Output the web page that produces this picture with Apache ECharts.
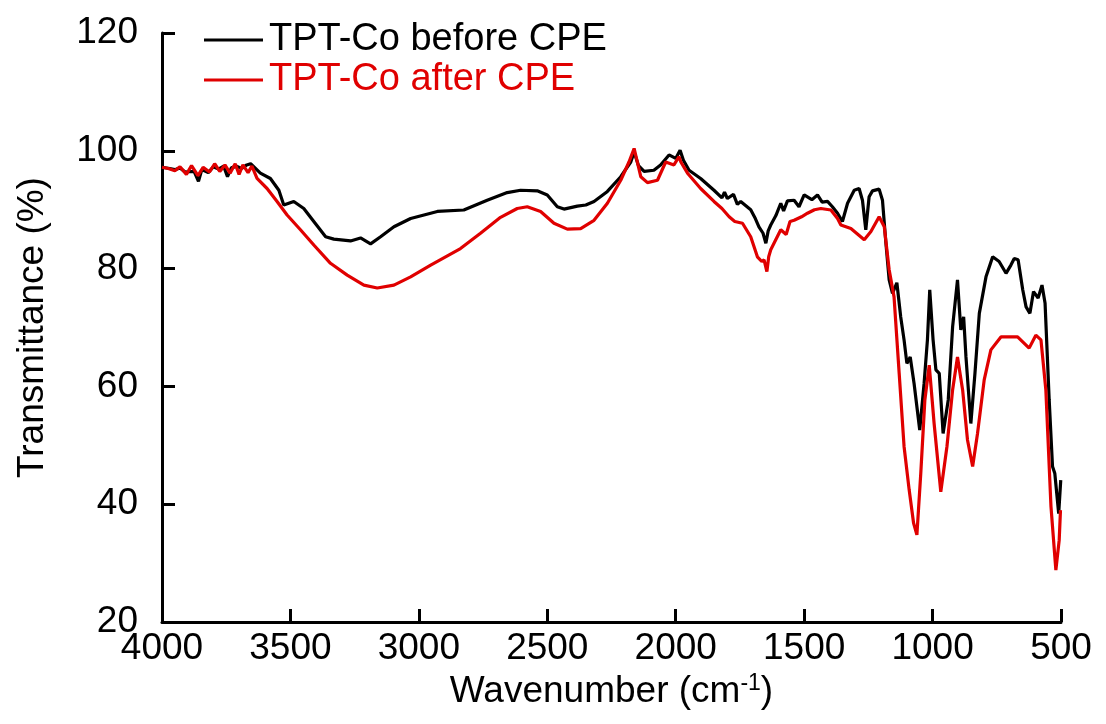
<!DOCTYPE html>
<html>
<head>
<meta charset="utf-8">
<script src="https://cdn.jsdelivr.net/npm/echarts@6/dist/echarts.min.js"></script>
<style>
html,body{margin:0;padding:0;background:#fff;}
#chart{width:1106px;height:724px;}
</style>
</head>
<body>
<div id="chart"></div>
<script>
// Wavenumber (cm-1) and transmittance (%) for each sample
var beforeWn = [4000,3970,3950,3930,3910,3875,3858,3845,3820,3800,3780,3760,3745,3730,3710,3690,3670,3655,3617,3578,3545,3526,3487,3448,3409,3363,3331,3266,3227,3188,3149,3097,3032,2954,2928,2825,2734,2656,2604,2539,2500,2461,2435,2383,2350,2318,2266,2214,2175,2162,2145,2123,2085,2059,2026,2000,1983,1970,1948,1903,1851,1820,1810,1799,1775,1760,1747,1708,1690,1676,1660,1649,1640,1630,1610,1591,1580,1565,1539,1520,1500,1470,1448,1430,1409,1390,1370,1351,1331,1305,1286,1273,1260,1247,1234,1208,1195,1182,1169,1156,1139,1124,1111,1100,1087,1072,1050,1033,1020,1011,998,987,974,959,939,922,903,890,879,870,851,835,818,792,766,741,714,695,682,667,649,636,621,607,589,574,562,546,533,524,509,501];
var beforeT  = [97.2,97.0,96.8,97.1,96.4,96.5,94.8,96.8,96.3,97.3,96.9,97.4,95.6,97.1,97.4,97.0,97.6,97.8,96.2,95.3,93.3,90.8,91.4,90.2,88.0,85.4,85.0,84.7,85.2,84.2,85.4,87.1,88.5,89.4,89.7,89.95,91.6,92.9,93.3,93.2,92.5,90.5,90.1,90.6,90.8,91.4,93.1,95.6,98.1,99.8,97.5,96.5,96.7,97.6,99.3,98.7,100.1,98.4,96.7,95.3,93.3,92.0,93.0,91.9,92.6,90.9,91.4,90.0,88.5,87.1,86.0,84.3,86.4,87.4,89.0,91.1,89.8,91.5,91.6,90.5,92.5,91.7,92.5,91.3,91.4,90.5,89.4,88.0,91.1,93.3,93.6,91.6,86.6,92.2,93.2,93.5,91.6,84.5,78.1,75.8,77.6,71.8,67.9,63.9,65.0,60.5,52.6,60.5,67.9,76.4,67.9,62.8,62.2,52.0,57.7,70.1,78.1,69.6,71.8,65.0,53.7,62.2,72.4,78.6,82.0,81.2,79.2,80.6,81.7,81.5,76.4,73.5,72.4,76.1,75.0,77.2,74.1,57.7,46.4,45.2,38.4,44.1];

var afterWn = [4000,3975,3950,3930,3905,3885,3860,3840,3815,3795,3775,3755,3735,3715,3700,3685,3665,3650,3630,3591,3552,3513,3461,3409,3344,3279,3214,3162,3097,3032,2954,2838,2760,2682,2617,2578,2526,2474,2422,2370,2318,2266,2214,2182,2162,2136,2110,2071,2039,2007,1987,1980,1954,1903,1851,1820,1792,1770,1740,1708,1682,1665,1656,1645,1638,1630,1591,1570,1555,1539,1510,1487,1460,1435,1396,1370,1357,1318,1266,1240,1208,1188,1180,1169,1150,1130,1111,1091,1074,1061,1046,1030,1013,994,968,944,922,903,883,864,844,825,799,773,734,669,624,598,578,559,539,520,507,502];
var afterT  = [97.2,97.0,96.6,97.3,96.0,97.5,95.8,97.2,96.4,97.8,96.5,97.6,96.2,97.8,96.0,97.6,96.3,97.4,95.3,93.6,91.4,89.1,86.6,84.0,80.9,78.9,77.2,76.7,77.2,78.6,80.6,83.4,86.0,88.7,90.2,90.5,89.7,87.7,86.7,86.8,88.2,91.1,95.0,98.1,100.4,95.6,94.6,95.0,98.1,97.6,99.0,98.1,96.2,93.6,91.4,90.2,88.8,88.0,87.7,85.4,82.0,81.2,81.5,79.5,82.0,83.2,86.6,85.8,88.0,88.2,88.8,89.4,90.0,90.2,89.95,88.5,87.4,86.8,84.9,86.3,88.8,87.1,84.0,79.8,75.2,62.2,49.8,42.4,36.8,34.8,45.2,57.7,63.6,53.7,42.1,49.8,59.4,65.0,59.4,50.9,46.4,52.0,61.1,66.2,68.4,68.4,66.5,68.7,67.9,59.4,39.6,28.8,33.9,39.0];

var seriesNames = ['TPT-Co before CPE', 'TPT-Co after CPE'];
var seriesColors = ['#000000', '#e00000'];

function pairs(xs, ys){ var out=[]; for (var i=0;i<xs.length;i++) out.push([xs[i], ys[i]]); return out; }

var FONT = 'Liberation Sans, Arial, sans-serif';
var chart = echarts.init(document.getElementById('chart'), null, {renderer:'canvas'});
chart.setOption({
  animation: false,
  backgroundColor: '#ffffff',
  grid: {left: 162, right: 45, top: 33, bottom: 102},
  legend: {
    orient: 'vertical', left: 199, top: 15, itemWidth: 59, itemHeight: 3, itemGap: 0,
    icon: 'rect',
    data: [
      {name: seriesNames[0], textStyle: {color: seriesColors[0]}},
      {name: seriesNames[1], textStyle: {color: seriesColors[1]}}
    ],
    textStyle: {fontFamily: FONT, fontSize: 38, lineHeight: 40, padding: [0,0,0,1]}
  },
  xAxis: {
    type: 'value', inverse: true, min: 500, max: 4000, interval: 500,
    name: 'Wavenumber (cm{sup|-1})', nameLocation: 'middle', nameGap: 45,
    nameTextStyle: {fontFamily: FONT, fontSize: 37, color: '#000',
      rich: {sup: {fontFamily: FONT, fontSize: 23, color: '#000', verticalAlign: 'top', padding: [0,0,16,0]}}},
    axisLine: {show: true, onZero: false, lineStyle: {color: '#000', width: 3}},
    axisTick: {show: true, inside: true, length: 13, lineStyle: {color: '#000', width: 3}},
    axisLabel: {fontFamily: FONT, fontSize: 37, color: '#000', margin: 8, formatter: function(v){ return String(v); }},
    splitLine: {show: false}
  },
  yAxis: {
    type: 'value', min: 20, max: 120, interval: 20,
    name: 'Transmittance (%)', nameLocation: 'middle', nameGap: 111,
    nameTextStyle: {fontFamily: FONT, fontSize: 37, color: '#000'},
    axisLine: {show: true, onZero: false, lineStyle: {color: '#000', width: 3}},
    axisTick: {show: true, inside: true, length: 13, lineStyle: {color: '#000', width: 3}},
    axisLabel: {fontFamily: FONT, fontSize: 37, color: '#000', margin: 24},
    splitLine: {show: false}
  },
  series: [
    {name: seriesNames[0], type: 'line', data: pairs(beforeWn, beforeT), showSymbol: false, symbol: 'none',
      lineStyle: {color: seriesColors[0], width: 3.2}, itemStyle: {color: seriesColors[0]}},
    {name: seriesNames[1], type: 'line', data: pairs(afterWn, afterT), showSymbol: false, symbol: 'none',
      lineStyle: {color: seriesColors[1], width: 3.2}, itemStyle: {color: seriesColors[1]}}
  ]
});
</script>
</body>
</html>
